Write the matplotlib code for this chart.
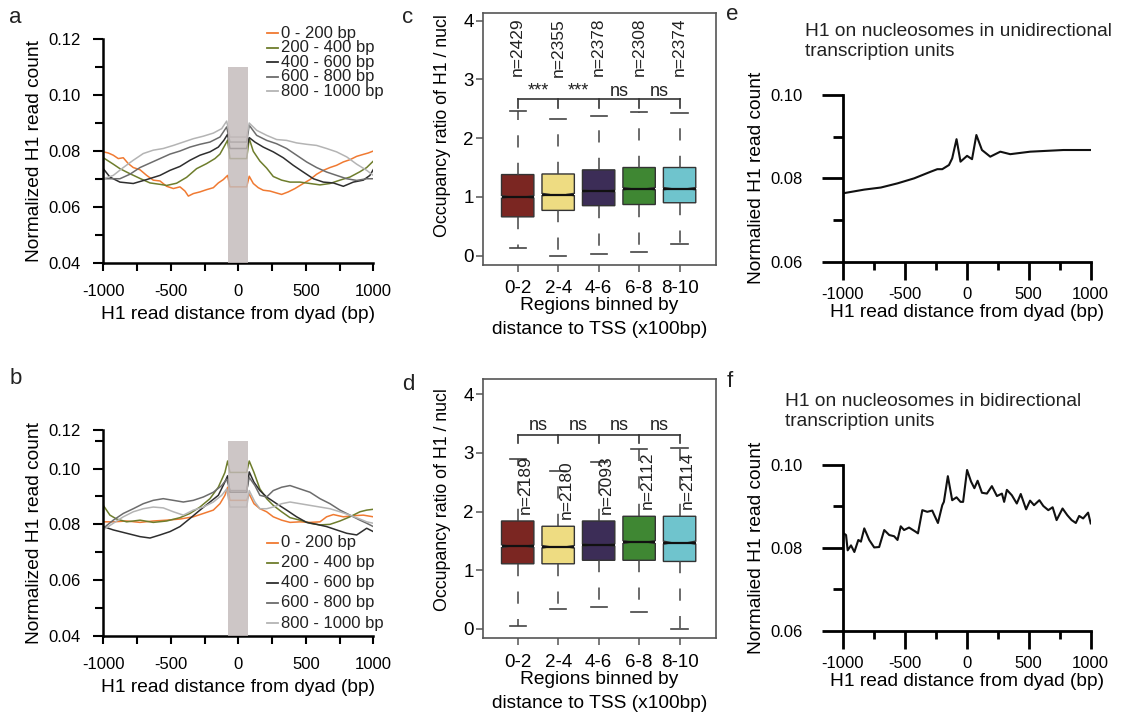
import numpy as np
import matplotlib
matplotlib.use("Agg")
import matplotlib.pyplot as plt
from matplotlib.ticker import MultipleLocator, FixedLocator

plt.rcParams['font.family'] = ['Liberation Sans', 'DejaVu Sans']
plt.rcParams['axes.unicode_minus'] = False

# ---------------- data ----------------
series_labels = ['0 - 200 bp', '200 - 400 bp', '400 - 600 bp', '600 - 800 bp', '800 - 1000 bp']
series_colors = ['#f07a32', '#6e7d2c', '#2e2e2e', '#6c6c6c', '#b4b4b4']

# panel a
a_orange_x = [-1000,-963,-926,-889,-852,-815,-778,-728,-679,-630,-580,-531,-481,-432,-395,-370,-333,-284,-235,-185,-148,-111,-79,-62,62,81,111,148,185,235,284,321,370,420,481,531,580,630,679,728,778,827,877,926,963,1000]
a_orange_y = [0.0798,0.0794,0.0786,0.0774,0.0777,0.0756,0.0742,0.0734,0.0714,0.0697,0.0694,0.0675,0.0667,0.0673,0.0658,0.0640,0.0649,0.0655,0.0663,0.0670,0.0687,0.0699,0.0714,0.0673,0.0673,0.0711,0.0685,0.0670,0.0661,0.0658,0.0651,0.0646,0.0655,0.0667,0.0685,0.0699,0.0718,0.0732,0.0742,0.0750,0.0762,0.0770,0.0782,0.0789,0.0794,0.0801]
a_olive_x = [-1000,-926,-877,-803,-728,-654,-580,-531,-457,-383,-309,-235,-173,-136,-99,-79,-62,62,81,111,160,210,259,321,383,457,531,605,679,753,827,901,951,1000]
a_olive_y = [0.0777,0.0754,0.0738,0.0720,0.0703,0.0687,0.0682,0.0678,0.0686,0.0707,0.0738,0.0756,0.0774,0.0790,0.0822,0.0840,0.0774,0.0774,0.0845,0.0800,0.0765,0.0740,0.0710,0.0697,0.0690,0.0690,0.0685,0.0680,0.0685,0.0697,0.0708,0.0727,0.0742,0.0765]
a_dark_x = [-1000,-951,-877,-778,-679,-580,-506,-432,-358,-284,-210,-148,-106,-79,-62,62,81,123,185,259,333,407,481,556,630,704,778,852,926,975,1000]
a_dark_y = [0.0738,0.0708,0.0690,0.0685,0.0699,0.0714,0.0732,0.0746,0.0768,0.0786,0.0798,0.0815,0.0840,0.0861,0.0810,0.0810,0.0849,0.0833,0.0815,0.0798,0.0777,0.0750,0.0726,0.0702,0.0690,0.0687,0.0675,0.0690,0.0697,0.0714,0.0735]
a_mid_x = [-1000,-877,-803,-728,-654,-580,-506,-432,-358,-284,-210,-136,-86,-62,62,81,136,210,284,358,432,506,580,654,728,803,877,951,1000]
a_mid_y = [0.0702,0.0702,0.0718,0.0742,0.0758,0.0774,0.0790,0.0801,0.0815,0.0825,0.0833,0.0851,0.0887,0.0833,0.0833,0.0893,0.0857,0.0839,0.0827,0.0810,0.0786,0.0762,0.0742,0.0726,0.0714,0.0702,0.0696,0.0702,0.0702]
a_light_x = [-1000,-926,-852,-778,-704,-630,-556,-481,-407,-333,-259,-185,-123,-86,-62,62,81,136,210,284,358,432,506,580,654,728,803,877,951,1000]
a_light_y = [0.0702,0.0714,0.0742,0.0768,0.0792,0.0804,0.0810,0.0821,0.0833,0.0845,0.0854,0.0865,0.0881,0.0908,0.0851,0.0851,0.0901,0.0875,0.0857,0.0842,0.0839,0.0830,0.0825,0.0821,0.0810,0.0798,0.0780,0.0754,0.0732,0.0714]

# panel b
b_orange_x = [-1000,-926,-827,-728,-630,-531,-432,-333,-259,-185,-136,-99,-79,-62,62,81,116,160,210,259,321,383,457,531,605,654,704,778,852,926,1000]
b_orange_y = [0.0809,0.0809,0.0812,0.0807,0.0812,0.0815,0.0819,0.0827,0.0839,0.0851,0.0874,0.0904,0.0933,0.0886,0.0886,0.0909,0.0874,0.0856,0.0845,0.0827,0.0815,0.0807,0.0809,0.0807,0.0809,0.0827,0.0835,0.0827,0.0831,0.0833,0.0827]
b_olive_x = [-1000,-951,-901,-827,-728,-630,-531,-432,-358,-284,-210,-148,-99,-79,-62,62,81,116,160,210,259,321,383,457,531,605,679,753,827,901,951,1000]
b_olive_y = [0.0868,0.0833,0.0819,0.0809,0.0815,0.0807,0.0812,0.0824,0.0839,0.0862,0.0892,0.0933,0.0986,0.1027,0.0986,0.0986,0.1027,0.0986,0.0927,0.0892,0.0868,0.0845,0.0824,0.0815,0.0804,0.0798,0.0800,0.0812,0.0827,0.0845,0.0851,0.0854]
b_dark_x = [-1000,-926,-827,-728,-654,-580,-506,-432,-358,-284,-210,-148,-106,-79,-62,62,81,116,160,210,284,358,432,506,580,654,728,803,877,951,1000]
b_dark_y = [0.0792,0.0780,0.0768,0.0756,0.0751,0.0762,0.0774,0.0792,0.0821,0.0851,0.0880,0.0904,0.0945,0.0974,0.0915,0.0915,0.0988,0.0951,0.0921,0.0898,0.0874,0.0851,0.0827,0.0807,0.0800,0.0792,0.0780,0.0768,0.0762,0.0786,0.0774]
b_mid_x = [-1000,-926,-852,-778,-704,-630,-556,-481,-407,-333,-259,-185,-123,-86,-62,62,81,123,160,210,259,321,383,457,531,605,679,753,827,901,951,1000]
b_mid_y = [0.0786,0.0815,0.0839,0.0856,0.0874,0.0886,0.0892,0.0886,0.0880,0.0886,0.0898,0.0915,0.0939,0.0962,0.0921,0.0921,0.0968,0.0939,0.0904,0.0898,0.0921,0.0933,0.0939,0.0927,0.0915,0.0892,0.0874,0.0851,0.0833,0.0815,0.0804,0.0792]
b_light_x = [-1000,-926,-852,-778,-704,-630,-556,-481,-407,-333,-259,-185,-123,-86,-62,62,81,123,160,210,259,321,383,457,531,605,679,753,827,901,951,1000]
b_light_y = [0.0780,0.0804,0.0827,0.0845,0.0856,0.0862,0.0859,0.0845,0.0833,0.0851,0.0862,0.0880,0.0904,0.0927,0.0862,0.0862,0.0921,0.0880,0.0856,0.0856,0.0862,0.0874,0.0880,0.0874,0.0868,0.0862,0.0856,0.0845,0.0833,0.0819,0.0809,0.0804]

shade_x = [-73, 73]
shade_top = 0.11

# panels c / d (box plots)
bins = ['0-2', '2-4', '4-6', '6-8', '8-10']
box_colors = ['#7b2622', '#eedc82', '#3c2d57', '#3f8733', '#6fc4cd']

c_q1 = [0.66, 0.77, 0.85, 0.87, 0.90]
c_med = [1.00, 1.04, 1.10, 1.14, 1.14]
c_q3 = [1.38, 1.39, 1.46, 1.50, 1.50]
c_lo = [0.13, 0.00, 0.02, 0.06, 0.20]
c_hi = [2.47, 2.33, 2.37, 2.44, 2.43]
c_n = [2429, 2355, 2378, 2308, 2374]
c_sig = ['***', '***', 'ns', 'ns']

d_q1 = [1.11, 1.11, 1.17, 1.17, 1.15]
d_med = [1.41, 1.40, 1.43, 1.48, 1.47]
d_q3 = [1.84, 1.75, 1.84, 1.92, 1.92]
d_lo = [0.05, 0.34, 0.38, 0.28, 0.00]
d_hi = [2.89, 2.69, 2.85, 3.07, 3.09]
d_n = [2189, 2180, 2093, 2112, 2114]
d_sig = ['ns', 'ns', 'ns', 'ns']

# panel e
e_x = [-1000,-826,-692,-558,-424,-290,-237,-197,-143,-117,-82,-50,3,43,78,123,190,271,351,512,780,1000]
e_y = [0.0764,0.0773,0.0778,0.0788,0.0800,0.0816,0.0822,0.0822,0.0832,0.0848,0.0894,0.0840,0.0854,0.0846,0.0904,0.0868,0.0852,0.0864,0.0858,0.0864,0.0868,0.0868]

# panel f
f_x = [-1000,-992,-973,-960,-933,-906,-874,-853,-826,-786,-746,-706,-665,-625,-585,-558,-532,-505,-465,-412,-393,-358,-318,-278,-232,-197,-184,-152,-117,-82,-50,-29,3,35,62,88,123,163,203,244,284,302,324,364,404,436,479,511,543,586,618,658,693,725,773,811,846,880,907,939,979,1000]
f_y = [0.0830,0.0835,0.0831,0.0794,0.0806,0.0790,0.0819,0.0815,0.0847,0.0819,0.0801,0.0802,0.0843,0.0831,0.0828,0.0819,0.0852,0.0843,0.0849,0.0839,0.0835,0.0891,0.0887,0.0890,0.0860,0.0903,0.0911,0.0973,0.0915,0.0922,0.0911,0.0911,0.0988,0.0960,0.0944,0.0962,0.0933,0.0931,0.0949,0.0925,0.0931,0.0911,0.0940,0.0927,0.0907,0.0930,0.0893,0.0914,0.0903,0.0915,0.0901,0.0891,0.0898,0.0867,0.0895,0.0879,0.0867,0.0860,0.0877,0.0871,0.0885,0.0859]

# ---------------- figure ----------------
W, H = 1121, 719
fig = plt.figure(figsize=(W / 100, H / 100), dpi=100)

def px_axes(left, top, right, bottom):
    return fig.add_axes([left / W, 1 - bottom / H, (right - left) / W, (bottom - top) / H])

TICK_FS = 12
LAB_FS = 13.8

def profile_panel(ax, xs, ys, top, yticks, yticklabels, legend_rows):
    for x, y, col in zip(xs, ys, series_colors):
        ax.plot(x, y, color=col, lw=1.1, zorder=2)
    ax.fill_between(shade_x, 0.04, shade_top, color='#c3baba', alpha=0.82, lw=0, zorder=3)
    ax.set_xlim(-1000, 1000)
    ax.set_ylim(0.04, top)
    for s in ['top', 'right']:
        ax.spines[s].set_visible(False)
    for s in ['left', 'bottom']:
        ax.spines[s].set_linewidth(1.8)
    ax.xaxis.set_major_locator(MultipleLocator(500))
    ax.xaxis.set_minor_locator(MultipleLocator(250))
    ax.yaxis.set_major_locator(FixedLocator(yticks))
    ax.set_yticklabels(yticklabels)
    ax.yaxis.set_minor_locator(FixedLocator([0.05, 0.07, 0.09, 0.11]))
    ax.tick_params(which='both', direction='out', width=1.5, labelsize=TICK_FS)
    ax.tick_params(axis='y', which='major', length=7, pad=9)
    ax.tick_params(axis='y', which='minor', length=6)
    ax.tick_params(axis='x', which='major', length=6, pad=9)
    ax.tick_params(axis='x', which='minor', length=6)
    ax.set_xlabel('H1 read distance from dyad (bp)', fontsize=LAB_FS, labelpad=5)
    ax.set_ylabel('Normalized H1 read count', fontsize=LAB_FS, labelpad=4)
    # legend
    for (yr, lab, col) in zip(legend_rows, series_labels, series_colors):
        ax.plot([0.605, 0.648], [yr, yr], color=col, lw=1.3, transform=ax.transAxes, clip_on=False)
        ax.text(0.66, yr, lab, transform=ax.transAxes, fontsize=12, va='center', ha='left', color='#222222')

# panel a
axa = px_axes(103.3, 39.3, 373.3, 263.3)
profile_panel(axa,
              [a_orange_x, a_olive_x, a_dark_x, a_mid_x, a_light_x],
              [a_orange_y, a_olive_y, a_dark_y, a_mid_y, a_light_y],
              0.12, [0.04, 0.06, 0.08, 0.10, 0.12], ['0.04', '0.06', '0.08', '0.10', '0.12'],
              [1.028, 0.962, 0.898, 0.833, 0.769])

# panel b (top of axis is compressed in the reference)
axb = px_axes(103.3, 430, 373.3, 636)
b_top = 0.1138
profile_panel(axb,
              [b_orange_x, b_olive_x, b_dark_x, b_mid_x, b_light_x],
              [b_orange_y, b_olive_y, b_dark_y, b_mid_y, b_light_y],
              b_top, [0.04, 0.06, 0.08, 0.10, b_top], ['0.04', '0.06', '0.08', '0.10', '0.12'],
              [0.453, 0.356, 0.259, 0.162, 0.061])

# box panels
def box_panel(ax, q1, med, q3, lo, hi, n, sig, ytop, bracket_y, sig_y, nlab_mode, ylab_y):
    pos = np.arange(1, len(bins) + 1)
    stats = []
    for i in range(len(bins)):
        ci = 1.58 * (q3[i] - q1[i]) / np.sqrt(n[i])
        stats.append(dict(med=med[i], q1=q1[i], q3=q3[i], whislo=lo[i], whishi=hi[i],
                          cilo=med[i] - ci, cihi=med[i] + ci, fliers=[]))
    bp = ax.bxp(stats, positions=pos, widths=0.8, capwidths=0.4, patch_artist=True,
                shownotches=True, showfliers=False,
                boxprops=dict(edgecolor='#333333', linewidth=1.0),
                whiskerprops=dict(color='#444444', linewidth=1.1, linestyle=(0, (8, 10))),
                capprops=dict(color='#444444', linewidth=1.2),
                medianprops=dict(color='#111111', linewidth=1.6))
    for patch, col in zip(bp['boxes'], box_colors):
        patch.set_facecolor(col)
    for line, p in zip(bp['medians'], pos):
        line.set_xdata([p - 0.4, p + 0.4])
    ax.set_xlim(0.15, 5.9)
    ax.set_ylim(-0.16, ytop)
    ax.set_xticks(pos)
    ax.set_xticklabels(bins)
    ax.set_yticks([0, 1, 2, 3, 4])
    for s in ax.spines.values():
        s.set_color('#555555')
        s.set_linewidth(1.2)
    ax.tick_params(direction='out', length=5, width=1.1, color='#555555', labelsize=13.5)
    ax.tick_params(axis='x', pad=6)
    ax.tick_params(axis='y', pad=2)
    ax.set_ylabel('Occupancy ratio of H1 / nucl', fontsize=12.8, labelpad=4)
    ax.yaxis.set_label_coords(-0.14, ylab_y)
    ax.set_xlabel('Regions binned by\ndistance to TSS (x100bp)', fontsize=13.8, labelpad=0, linespacing=1.55)
    # significance bracket
    ax.plot([pos[0], pos[-1]], [bracket_y, bracket_y], color='#333333', lw=1.2)
    for p in pos:
        ax.plot([p, p], [bracket_y, bracket_y - 0.14], color='#333333', lw=1.2)
    for i, s in enumerate(sig):
        ax.text(pos[i] + 0.5, sig_y, s, ha='center', va='center', fontsize=13, color='#222222')
    # n labels
    for i, p in enumerate(pos):
        if nlab_mode == 'top':
            ax.text(p, 3.55, 'n=%d' % n[i], rotation=90, ha='center', va='center', fontsize=12.5, color='#222222')
        else:
            ax.text(p + 0.2, q3[i] + 0.12, 'n=%d' % n[i], rotation=90, ha='center', va='bottom', fontsize=12.5, color='#222222')

axc = px_axes(483.3, 13.3, 716, 265)
box_panel(axc, c_q1, c_med, c_q3, c_lo, c_hi, c_n, c_sig, 4.126, 2.66, 2.8, 'top', 0.555)
axd = px_axes(483.3, 379.3, 716, 638.3)
box_panel(axd, d_q1, d_med, d_q3, d_lo, d_hi, d_n, d_sig, 4.255, 3.31, 3.47, 'side', 0.535)

# e / f
def single_panel(ax, x, y, title, title_xy):
    ax.plot(x, y, color='#111111', lw=1.5)
    ax.set_xlim(-1000, 1000)
    ax.set_ylim(0.06, 0.10)
    for s in ['top', 'right']:
        ax.spines[s].set_visible(False)
    for s in ['left', 'bottom']:
        ax.spines[s].set_linewidth(2.0)
    ax.xaxis.set_major_locator(MultipleLocator(500))
    ax.xaxis.set_minor_locator(MultipleLocator(250))
    ax.yaxis.set_major_locator(FixedLocator([0.06, 0.08, 0.10]))
    ax.yaxis.set_minor_locator(FixedLocator([0.07, 0.09]))
    ax.set_yticklabels(['0.06', '0.08', '0.10'])
    ax.tick_params(which='both', direction='out', width=2.0, labelsize=12)
    ax.tick_params(axis='y', which='major', length=15, pad=14)
    ax.tick_params(axis='y', which='minor', length=7)
    ax.tick_params(axis='x', which='major', length=13, pad=5)
    ax.tick_params(axis='x', which='minor', length=6)
    ax.set_xlabel('H1 read distance from dyad (bp)', fontsize=LAB_FS, labelpad=2)
    ax.set_ylabel('Normalied H1 read count', fontsize=LAB_FS, labelpad=4)
    fig.text(title_xy[0] / W, 1 - title_xy[1] / H, title, fontsize=13.8, ha='left', va='top',
             linespacing=1.25, color='#222222')

axe = px_axes(842.7, 95, 1090.7, 261.7)
single_panel(axe, e_x, e_y, 'H1 on nucleosomes in unidirectional\ntranscription units', (805, 23))
axf = px_axes(842.7, 465, 1090.7, 630.7)
single_panel(axf, f_x, f_y, 'H1 on nucleosomes in bidirectional\ntranscription units', (785, 393))

# panel letters
for lab, (x, y) in zip(['a', 'b', 'c', 'd', 'e', 'f'],
                       [(9, 7), (10, 368), (402, 7), (402, 374), (726, 4), (727, 371)]):
    fig.text(x / W, 1 - y / H, lab, fontsize=16, ha='left', va='top', color='#222222')

fig.savefig('out.png', dpi=100)
